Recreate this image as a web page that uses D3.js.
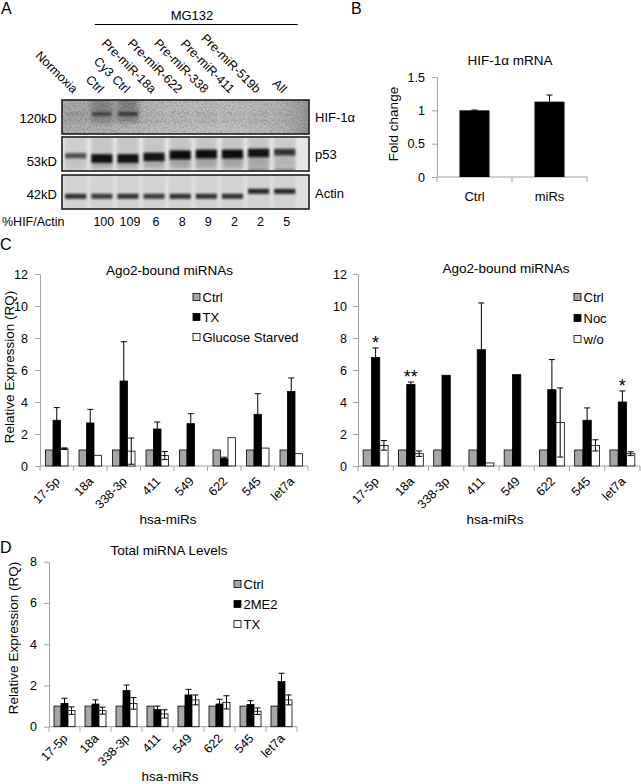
<!DOCTYPE html>
<html><head><meta charset="utf-8">
<script src="https://cdn.jsdelivr.net/npm/d3@7"></script>
<style>
body{margin:0;background:#fff}
svg{display:block;font-family:"Liberation Sans",Arial,sans-serif}
</style></head><body>
<svg id="fig" width="641" height="784"></svg>
<script>
// ===================== DATA =====================
// Panel A (western blot)
const lanes = ["Normoxia","Ctrl","Cy3 Ctrl","Pre-miR-18a","Pre-miR-622","Pre-miR-338","Pre-miR-411","Pre-miR-519b","All"];
const mg132Lanes = ["Ctrl","All"];               // first/last lane under the MG132 bar
const hifPercent = ["","100","109","6","8","9","2","2","5"];
const hifSignal   = [0.12,0.75,0.85,0.06,0.05,0.08,0.05,0.05,0.04];
const p53Signal   = [0.35,0.95,0.95,0.9,1.0,0.97,0.97,0.92,0.6];
const p53Mobility = [0.35,0,0,0.2,0.45,0.55,0.55,0.7,0.8];
const p53Lower    = [0,0,0,0,0,0,0,0.5,0.5];
const actinSignal = [0.85,0.8,0.85,0.8,0.85,0.85,0.85,0.9,0.9];
const actinMobility = [0,0,0,0,0,0,0,1,1];

// Panel B
const bCategories = ["Ctrl","miRs"];
const bValues = [1.0, 1.13];
const bErrors = [0.005, 0.1];
const bTicks = [0, 0.5, 1, 1.5];
const bTickLabels = ["0","0.5","1","1.5"];

// Panels C / D
const mirs = ["17-5p","18a","338-3p","411","549","622","545","let7a"];
const cTicks = [0,2,4,6,8,10,12];
const dTicks = [0,2,4,6,8];

const cLeftSeries = ["Ctrl","TX","Glucose Starved"];
const cLeftCtrl   = [1,1,1,1,1,1,1,1];
const cLeftTX     = [2.86,2.69,5.31,2.31,2.65,0.46,3.23,4.66];
const cLeftTXErr  = [0.79,0.85,2.46,0.44,0.62,0.09,1.29,0.84];
const cLeftGS     = [1.08,0.67,0.93,0.65,0,1.77,1.12,0.77];
const cLeftGSErr  = [0.05,0,0.82,0.25,0,0,0,0];

const cRightSeries = ["Ctrl","Noc","w/o"];
const cRightCtrl   = [1,1,1,1,1,1,1,1];
const cRightNoc    = [6.78,5.09,5.67,7.27,5.71,4.77,2.86,4.0];
const cRightNocErr = [0.6,0.16,0,2.92,0,1.88,0.77,0.69];
const cRightWo     = [1.29,0.77,0,0.19,0,2.72,1.29,0.77];
const cRightWoErr  = [0.3,0.17,0,0,0,2.16,0.35,0.12];
const cRightSig    = ["*","**","","","","","","*"];

const dSeries  = ["Ctrl","2ME2","TX"];
const dCtrl    = [1,1,1,1,1,1,1,1];
const d2ME2    = [1.13,1.10,1.75,0.83,1.54,1.10,1.08,2.19];
const d2ME2Err = [0.25,0.2,0.27,0.17,0.27,0.23,0.18,0.4];
const dTX      = [0.78,0.78,1.13,0.62,1.30,1.18,0.75,1.30];
const dTXErr   = [0.18,0.17,0.28,0.2,0.24,0.32,0.16,0.24];

// ===================== DRAW =====================
const svg = d3.select("#fig");
const AXIS = "#a3a3a3";
const GRAY = "#a6a6a6";
const defs = svg.append("defs");
function blur(id, sd){
  defs.append("filter").attr("id",id).attr("x","-50%").attr("y","-50%").attr("width","200%").attr("height","200%")
    .append("feGaussianBlur").attr("stdDeviation",sd);
}
blur("b1",1.1); blur("b2",2); blur("b3",3.2);
const nf = defs.append("filter").attr("id","noise").attr("x",0).attr("y",0).attr("width","100%").attr("height","100%");
nf.append("feTurbulence").attr("type","fractalNoise").attr("baseFrequency","0.55").attr("numOctaves",2).attr("seed",7).attr("result","n");
nf.append("feColorMatrix").attr("in","n").attr("type","matrix")
  .attr("values","0 0 0 0 0  0 0 0 0 0  0 0 0 0 0  0.9 0 0 0 -0.32");

function txt(x,y,t,opt={}){
  const e = svg.append("text").attr("x",x).attr("y",y).text(t)
    .attr("font-size",opt.size||13).attr("text-anchor",opt.anchor||"start").attr("fill","#000");
  if(opt.transform) e.attr("transform",opt.transform);
  return e;
}

// Panel letters
txt(1,14,"A",{size:16}); txt(351,14,"B",{size:16});
txt(0,250,"C",{size:16}); txt(0,553,"D",{size:16});

// ---------- Panel A ----------
const laneX = d3.scalePoint().domain(lanes).range([75.7,284.7]);
const blotL = 62, blotR = 309;
const panels = {hif:[100,134], p53:[137,171], actin:[175,209]};

txt(192,20,"MG132",{anchor:"middle"});
svg.append("line").attr("x1",laneX(mg132Lanes[0])-7).attr("x2",laneX(mg132Lanes[1])+13)
  .attr("y1",24.5).attr("y2",24.5).attr("stroke","#000").attr("stroke-width",1);

lanes.forEach(l=>{
  txt(0,0,l,{size:12.5,anchor:"end",transform:`translate(${laneX(l)-3},94) rotate(45)`});
});

// gradient for HIF background
const hg = defs.append("linearGradient").attr("id","hifbg");
[[0,"#b2b2b2"],[0.15,"#b6b6b6"],[0.4,"#c2c2c2"],[0.7,"#c6c6c6"],[0.9,"#b9b9b9"],[1,"#9a9a9a"]]
  .forEach(s=>hg.append("stop").attr("offset",s[0]).attr("stop-color",s[1]));

function clip(id,y0,y1){
  defs.append("clipPath").attr("id",id).append("rect").attr("x",blotL).attr("y",y0).attr("width",blotR-blotL).attr("height",y1-y0);
}
// HIF
{
  const [y0,y1] = panels.hif; clip("cHif",y0,y1);
  const g = svg.append("g").attr("clip-path","url(#cHif)");
  g.append("rect").attr("x",blotL).attr("y",y0).attr("width",blotR-blotL).attr("height",y1-y0).attr("fill","url(#hifbg)");
  g.selectAll(null).data(lanes).join("rect").attr("x",d=>laneX(d)-11).attr("width",22)
    .attr("y",y0-4).attr("height",26).attr("fill","#404040")
    .attr("opacity",(d,i)=>hifSignal[i]*0.5).attr("filter","url(#b3)");
  g.selectAll(null).data(lanes).join("rect").attr("x",d=>laneX(d)-10).attr("width",20)
    .attr("y",112).attr("height",4).attr("fill","#1a1a1a")
    .attr("opacity",(d,i)=>hifSignal[i]*0.8).attr("filter","url(#b1)");
  g.selectAll(null).data(lanes).join("rect").attr("x",d=>laneX(d)-11).attr("width",22)
    .attr("y",119.5).attr("height",3).attr("fill","#7a7a7a")
    .attr("opacity",(d,i)=>0.15+hifSignal[i]*0.3).attr("filter","url(#b1)");
  g.append("rect").attr("x",blotL).attr("y",y0).attr("width",blotR-blotL).attr("height",y1-y0).attr("fill","#fff").attr("filter","url(#noise)").attr("opacity",0.5);
  svg.append("rect").attr("x",blotL).attr("y",y0).attr("width",blotR-blotL).attr("height",y1-y0).attr("fill","none").attr("stroke","#1e1e1e").attr("stroke-width",1.6);
}
// p53
{
  const [y0,y1] = panels.p53; clip("cP53",y0,y1);
  const g = svg.append("g").attr("clip-path","url(#cP53)");
  g.append("rect").attr("x",blotL).attr("y",y0).attr("width",blotR-blotL).attr("height",y1-y0).attr("fill","#e6e6e6");
  g.selectAll(null).data(lanes).join("rect").attr("x",d=>laneX(d)-11).attr("width",22)
    .attr("y",y0).attr("height",y1-y0).attr("fill","#d3d3d3").attr("filter","url(#b1)");
  const my = d3.scaleLinear().domain([0,1]).range([159,151]);
  g.selectAll(null).data(lanes).join("rect").attr("x",d=>laneX(d)-10).attr("width",20)
    .attr("y",y0).attr("height",(d,i)=>my(p53Mobility[i])-y0).attr("fill","#9a9a9a")
    .attr("opacity",(d,i)=>p53Signal[i]*0.25).attr("filter","url(#b2)");
  g.selectAll(null).data(lanes).join("rect").attr("x",d=>laneX(d)-10.5).attr("width",21)
    .attr("y",(d,i)=>my(p53Mobility[i])).attr("height",(d,i)=>168-my(p53Mobility[i])).attr("fill","#5a5a5a")
    .attr("opacity",(d,i)=>p53Signal[i]*0.4).attr("filter","url(#b2)");
  g.selectAll(null).data(lanes).join("rect").attr("x",d=>laneX(d)-10.5).attr("width",21)
    .attr("y",(d,i)=>my(p53Mobility[i])-(2+3*p53Signal[i])).attr("height",(d,i)=>3+6*p53Signal[i])
    .attr("fill","#111").attr("opacity",(d,i)=>0.45+0.55*p53Signal[i]).attr("filter","url(#b1)");
  g.selectAll(null).data(lanes).join("rect").attr("x",d=>laneX(d)-10).attr("width",20)
    .attr("y",168.5).attr("height",2).attr("fill","#333")
    .attr("opacity",(d,i)=>p53Lower[i]).attr("filter","url(#b1)");
  svg.append("rect").attr("x",blotL).attr("y",y0).attr("width",blotR-blotL).attr("height",y1-y0).attr("fill","none").attr("stroke","#1e1e1e").attr("stroke-width",1.6);
}
// Actin
{
  const [y0,y1] = panels.actin; clip("cAct",y0,y1);
  const g = svg.append("g").attr("clip-path","url(#cAct)");
  g.append("rect").attr("x",blotL).attr("y",y0).attr("width",blotR-blotL).attr("height",y1-y0).attr("fill","#dedede");
  g.selectAll(null).data(lanes).join("rect").attr("x",d=>laneX(d)-11).attr("width",22)
    .attr("y",y0).attr("height",y1-y0).attr("fill","#d2d2d2").attr("filter","url(#b1)");
  const my = d3.scaleLinear().domain([0,1]).range([196.3,191.3]);
  g.selectAll(null).data(lanes).join("rect").attr("x",d=>laneX(d)-10.5).attr("width",21)
    .attr("y",(d,i)=>my(actinMobility[i])-2.5).attr("height",5)
    .attr("fill","#141414").attr("opacity",(d,i)=>actinSignal[i]).attr("filter","url(#b1)");
  svg.append("rect").attr("x",blotL).attr("y",y0).attr("width",blotR-blotL).attr("height",y1-y0).attr("fill","none").attr("stroke","#1e1e1e").attr("stroke-width",1.6);
}
txt(57,123,"120kD",{anchor:"end"}); txt(57,166,"53kD",{anchor:"end"}); txt(57,199,"42kD",{anchor:"end"});
txt(315,122,"HIF-1\u03b1"); txt(315,159,"p53"); txt(315,198,"Actin");
txt(2,226,"%HIF/Actin",{size:12.5});
lanes.forEach((l,i)=>{ if(hifPercent[i]) txt(laneX(l)+2,226,hifPercent[i],{size:12.5,anchor:"middle"}); });

// ---------- helpers for bar charts ----------
function yAxis(x0, y, ticks, labels, pad){
  const g = svg.append("g").attr("transform",`translate(${x0},0)`)
    .call(d3.axisLeft(y).tickValues(ticks).tickSize(5).tickSizeOuter(0).tickPadding(pad)
      .tickFormat((d,i)=>labels ? labels[i] : d));
  g.attr("font-family",null).attr("font-size",12.5);
  g.select(".domain").attr("stroke",AXIS);
  g.selectAll(".tick line").attr("stroke",AXIS);
  g.selectAll(".tick text").attr("fill","#000");
}
function xAxisBounds(x, yPix){
  const g = svg.append("g");
  g.append("line").attr("x1",x.range()[0]).attr("x2",x.range()[1]).attr("y1",yPix).attr("y2",yPix).attr("stroke",AXIS);
  const bounds = x.domain().map(d=>x(d)).concat([x.range()[1]]);
  g.selectAll(null).data(bounds).join("line").attr("x1",d=>d).attr("x2",d=>d)
    .attr("y1",yPix).attr("y2",yPix+5).attr("stroke",AXIS);
}
function legend(x, ys, names, colors){
  names.forEach((n,i)=>{
    svg.append("rect").attr("x",x).attr("y",ys[i]-3.5).attr("width",7).attr("height",7)
      .attr("fill",colors[i]).attr("stroke","#000").attr("stroke-width",0.8);
    txt(x+9.5,ys[i]+4.5,n);
  });
}
function grouped(cfg){
  const x = d3.scaleBand().domain(mirs).range([cfg.x0,cfg.x1]);
  const y = d3.scaleLinear().domain([0,d3.max(cfg.ticks)]).range([cfg.y0,cfg.yTop]);
  yAxis(cfg.x0, y, cfg.ticks, null, cfg.pad);
  xAxisBounds(x, cfg.y0);
  const inner = d3.scaleBand().domain(cfg.series).range([0,cfg.barW*cfg.series.length]);
  const off = (x.bandwidth()-inner.range()[1])/2;
  const g = svg.append("g");
  cfg.series.forEach((s,i)=>{
    const rows = mirs.map((m,j)=>({m, v:cfg.values[i][j], e:cfg.errors[i] ? cfg.errors[i][j] : 0}));
    g.selectAll(null).data(rows.filter(r=>r.v>0)).join("rect")
      .attr("x",r=>x(r.m)+off+inner(s)).attr("width",inner.bandwidth())
      .attr("y",r=>y(r.v)).attr("height",r=>y(0)-y(r.v))
      .attr("fill",cfg.colors[i]).attr("stroke","#000").attr("stroke-width",0.8);
    const er = rows.filter(r=>r.v>0 && r.e>0);
    const cx = r=>x(r.m)+off+inner(s)+inner.bandwidth()/2;
    g.selectAll(null).data(er).join("line").attr("x1",cx).attr("x2",cx)
      .attr("y1",r=>y(Math.max(0,r.v-r.e))).attr("y2",r=>y(r.v+r.e)).attr("stroke","#000").attr("stroke-width",1);
    [1,-1].forEach(sg=>{
      g.selectAll(null).data(er).join("line").attr("x1",r=>cx(r)-3).attr("x2",r=>cx(r)+3)
        .attr("y1",r=>y(Math.max(0,r.v+sg*r.e))).attr("y2",r=>y(Math.max(0,r.v+sg*r.e)))
        .attr("stroke","#000").attr("stroke-width",1);
    });
    if(cfg.sig && i===cfg.sigSeries){
      rows.forEach((r,j)=>{ if(cfg.sig[j]) txt(cx(r),y(r.v+r.e)+1,cfg.sig[j],{size:18,anchor:"middle"}); });
    }
  });
  mirs.forEach(m=>{
    txt(0,0,m,{size:12.5,anchor:"end",transform:`translate(${x(m)+x.bandwidth()/2+4},${cfg.y0+cfg.labDy}) rotate(-45)`});
  });
  return {x,y};
}

// ---------- Panel B ----------
{
  const x = d3.scaleBand().domain(bCategories).range([437,587]);
  const y = d3.scaleLinear().domain([0,1.5]).range([177,77]);
  yAxis(437, y, bTicks, bTickLabels, 7);
  xAxisBounds(x, 177);
  const bw = 30;
  svg.selectAll(null).data(bCategories).join("rect")
    .attr("x",d=>x(d)+x.bandwidth()/2-bw/2).attr("width",bw)
    .attr("y",(d,i)=>y(bValues[i])).attr("height",(d,i)=>y(0)-y(bValues[i])).attr("fill","#000");
  bCategories.forEach((d,i)=>{
    const cx = x(d)+x.bandwidth()/2;
    svg.append("line").attr("x1",cx).attr("x2",cx).attr("y1",y(bValues[i])).attr("y2",y(bValues[i]+bErrors[i])).attr("stroke","#000");
    svg.append("line").attr("x1",cx-3).attr("x2",cx+3).attr("y1",y(bValues[i]+bErrors[i])).attr("y2",y(bValues[i]+bErrors[i])).attr("stroke","#000");
    txt(cx,201,d,{anchor:"middle"});
  });
  txt(510,65,"HIF-1\u03b1 mRNA",{anchor:"middle",size:13.5});
  txt(0,0,"Fold change",{anchor:"middle",size:13.5,transform:"translate(398,124) rotate(-90)"});
}

// ---------- Panel C left ----------
grouped({x0:40,x1:308,y0:466,yTop:274,ticks:cTicks,pad:7,barW:7.5,
  series:cLeftSeries,values:[cLeftCtrl,cLeftTX,cLeftGS],errors:[null,cLeftTXErr,cLeftGSErr],
  colors:[GRAY,"#000","#fff"],labDy:16});
legend(193,[297,317,337],cLeftSeries,[GRAY,"#000","#fff"]);
txt(169.5,274.5,"Ago2-bound miRNAs",{anchor:"middle",size:13.5});
txt(168,524,"hsa-miRs",{anchor:"middle",size:13.5});
txt(0,0,"Relative Expression (RQ)",{anchor:"middle",size:13.5,transform:"translate(13.5,367) rotate(-90)"});

// ---------- Panel C right ----------
grouped({x0:358,x1:640,y0:466,yTop:274,ticks:cTicks,pad:6,barW:8.3,
  series:cRightSeries,values:[cRightCtrl,cRightNoc,cRightWo],errors:[null,cRightNocErr,cRightWoErr],
  colors:[GRAY,"#000","#fff"],labDy:16,sig:cRightSig,sigSeries:1});
legend(574,[297,318,339],cRightSeries,[GRAY,"#000","#fff"]);
txt(506,273,"Ago2-bound miRNAs",{anchor:"middle",size:13.5});
txt(495,524,"hsa-miRs",{anchor:"middle",size:13.5});

// ---------- Panel D ----------
grouped({x0:49,x1:297,y0:726.7,yTop:561.7,ticks:dTicks,pad:7,barW:7,
  series:dSeries,values:[dCtrl,d2ME2,dTX],errors:[null,d2ME2Err,dTXErr],
  colors:[GRAY,"#000","#fff"],labDy:12.5});
legend(234,[584,604,624],dSeries,[GRAY,"#000","#fff"]);
txt(169,555,"Total miRNA Levels",{anchor:"middle",size:13.5});
txt(170,780.5,"hsa-miRs",{anchor:"middle",size:13.5});
txt(0,0,"Relative Expression (RQ)",{anchor:"middle",size:13.5,transform:"translate(18,638) rotate(-90)"});
</script>
</body></html>
